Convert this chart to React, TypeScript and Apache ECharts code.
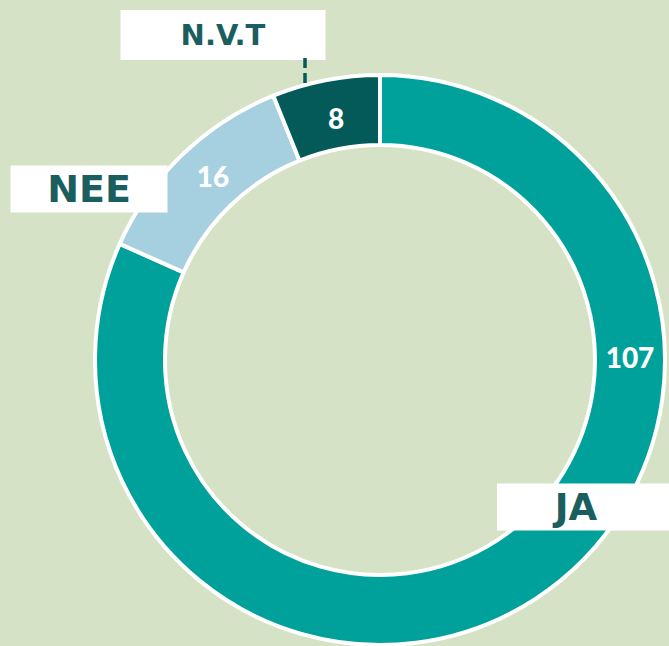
import React, { useEffect, useRef } from "react";
import * as echarts from "echarts";

const categories = ["JA", "NEE", "N.V.T"];
const values = [107, 16, 8];
const colors = ["#00a19a", "#a6cfe0", "#045a58"];

export default function App() {
  const ref = useRef<HTMLDivElement>(null);
  useEffect(() => {
    document.body.style.margin = "0";
    const chart = echarts.init(ref.current!, null, { renderer: "svg" });
    const valuePos: Record<number, [number, number]> = {
      0: [630, 357],
      1: [213, 176],
      2: [336, 118],
    };
    const namePos: Record<number, [number, number]> = {
      0: [583, 507],
      1: [89, 189],
      2: [223, 35],
    };
    const nameStyle: Record<number, any> = {
      0: { width: 158, height: 47, fontSize: 37, padding: [0, 14, 0, 0] },
      1: { width: 157, height: 47, fontSize: 38, padding: 0 },
      2: { width: 205, height: 50, fontSize: 29, padding: 0 },
    };
    chart.setOption({
      animation: false,
      backgroundColor: "#d6e2c6",
      graphic: [
        {
          type: "line",
          shape: { x1: 305, y1: 58, x2: 305, y2: 83 },
          style: { stroke: "#045a58", lineWidth: 3.5, lineDash: [10, 5], lineCap: "butt" },
          z: 10,
        },
      ],
      series: [
        {
          type: "pie",
          center: [380, 360],
          radius: [215, 285],
          startAngle: 90,
          clockwise: true,
          itemStyle: { borderColor: "#ffffff", borderWidth: 4 },
          label: {
            show: true,
            position: "inside",
            formatter: "{c}",
            color: "#ffffff",
            fontFamily: "Lato",
            fontWeight: 900,
            fontSize: 28,
          },
          labelLine: { show: false },
          labelLayout: (p: any) => {
            const pos = valuePos[p.dataIndex];
            return { x: pos[0], y: pos[1], align: "center", verticalAlign: "middle" };
          },
          data: categories.map((c, i) => ({
            name: c,
            value: values[i],
            itemStyle: { color: colors[i] },
          })),
        },
        {
          type: "pie",
          center: [380, 360],
          radius: [215, 285],
          startAngle: 90,
          clockwise: true,
          silent: true,
          z: 5,
          itemStyle: { color: "rgba(0,0,0,0)", borderWidth: 0 },
          label: {
            show: true,
            position: "outside",
            formatter: "{b}",
            color: "#1a5e5f",
            fontFamily: "DejaVu Sans",
            fontWeight: "bold",
            backgroundColor: "#ffffff",
            align: "center",
            verticalAlign: "middle",
          },
          labelLine: { show: false },
          labelLayout: (p: any) => {
            const pos = namePos[p.dataIndex];
            return { x: pos[0], y: pos[1], align: "center", verticalAlign: "middle" };
          },
          data: categories.map((c, i) => ({
            name: c,
            value: values[i],
            label: { ...nameStyle[i], lineHeight: nameStyle[i].height },
          })),
        },
      ],
    });
    return () => chart.dispose();
  }, []);
  return (
    <div
      ref={ref}
      style={{ position: "absolute", left: 0, top: 0, width: 669, height: 646 }}
    />
  );
}
